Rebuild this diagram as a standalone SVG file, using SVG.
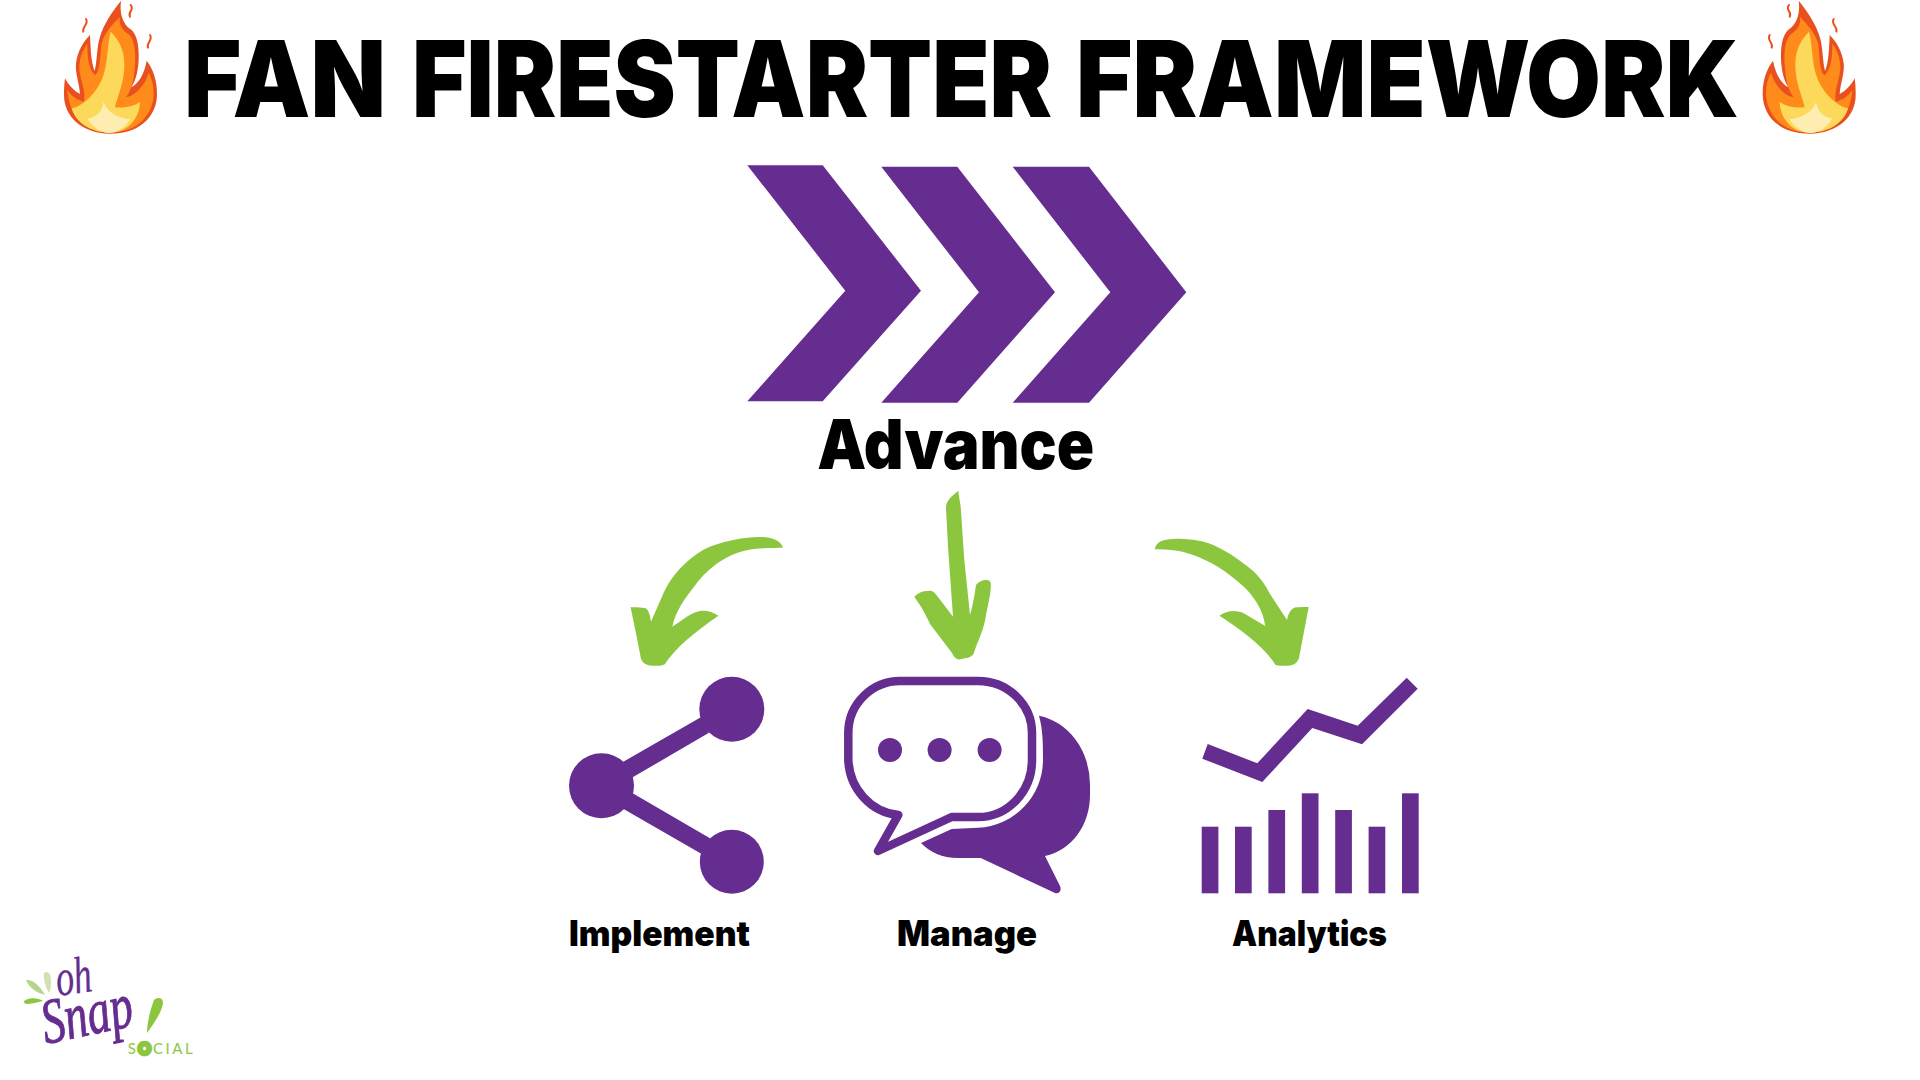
<svg xmlns="http://www.w3.org/2000/svg" xmlns:xlink="http://www.w3.org/1999/xlink" width="1920" height="1080" viewBox="0 0 1920 1080">
<style>
.p{fill:#652d90}
.g{fill:#8cc63f}
.t{font-family:"Inter","Liberation Sans",sans-serif;font-weight:900;fill:#000}
.s{font-family:"Liberation Serif",serif;font-style:italic;fill:#652d90;stroke:#652d90}
</style>
<defs>
<g id="flame" transform="scale(.33333)">
<path fill="#e9501f" d="M363,2C358,40 368,72 392,88C408,100 418,130 416,180C414,220 405,245 394,262C415,250 432,225 440,182C458,205 472,240 471,285C470,340 430,401 330,401C240,400 192,345 192,285C192,265 193,250 195,235C205,255 225,275 240,282C238,250 225,220 228,190C232,155 250,125 270,105C272,140 272,185 284,213C292,180 290,140 300,110C312,70 340,30 363,2Z"/>
<path fill="#ff8c1a" d="M360,50C355,70 365,90 385,102C402,115 408,150 405,195C402,240 395,270 378,292C410,285 435,255 446,218C458,240 463,265 460,295C452,350 410,397 330,398C250,397 208,345 202,270C215,290 235,302 252,305C258,270 240,240 238,205C238,175 248,150 262,132C262,170 265,205 285,226C302,215 300,160 305,130C312,100 340,70 360,50Z"/>
<path fill="#fcd95a" d="M332,95C362,125 378,160 372,215C368,260 350,295 345,322C370,325 400,320 420,306C420,340 395,398 330,398C270,398 225,365 215,325C245,320 285,285 305,240C325,195 320,140 332,95Z"/>
<path fill="#fdedb0" d="M311,305C318,330 345,352 390,358C375,385 350,398 330,399C300,399 275,380 262,355C285,352 305,340 311,305Z"/>
<g fill="none" stroke="#e9501f" stroke-width="6" stroke-linecap="round"><path d="M258,57C268,72 245,80 250,95"/><path d="M392,15C405,30 382,35 390,50"/><path d="M450,105C460,120 438,128 444,143"/></g>
</g>
</defs>
<rect width="1920" height="1080" fill="#fff"/>
<g id="title">
<text class="t" y="117" font-size="106"><tspan x="184" textLength="202" lengthAdjust="spacingAndGlyphs">FAN</tspan> <tspan x="412" textLength="640" lengthAdjust="spacingAndGlyphs">FIRESTARTER</tspan> <tspan x="1076" textLength="663" lengthAdjust="spacingAndGlyphs">FRAMEWORK</tspan></text>
<use id="flame-left" xlink:href="#flame" href="#flame"/>
<use id="flame-right" xlink:href="#flame" href="#flame" transform="matrix(-1 0 0 1 1919.7 0)"/>
</g>
<g id="advance">
<path class="p" d="M747.3,165.3H822.7L921,290.7L822.7,401.3H747.3L845.3,290.7Z"/>
<path class="p" d="M881.3,166.7H957.3L1055,292.3L957.3,402.7H881.3L979,292.3Z"/>
<path class="p" d="M1012.7,166.7H1089L1186.3,292.3L1089,402.7H1012.7L1110.3,292.3Z"/>
<text class="t" x="817.3" y="469" font-size="69" textLength="277" lengthAdjust="spacingAndGlyphs">Advance</text>
</g>
<g id="connectors">
<path class="g" d="M783,547.7C781,541 773,537 759,537C745,537 720,541 703,550C685,561 672,575 664,592L651,621.7C650,614 648,608 644,608C640,607 635,607 630.6,607.3L636.7,636.7L640.8,658C642,663 647,665.7 652,665.7C658,666 662,666 664.8,664.3C675,648 695,632 718.4,615.7C712,611 702,609 695.4,612.3C688,615 680,622 672.4,626.7C675,612 685,598 695.4,585C708,568 728,552 754,549C765,548 775,547.7 783,547.7Z"/>
<path class="g" d="M958.2,491C952,496 946,500 946,508L948,546.7L953,616.7L937.8,596.7C934,591 931,590 927.6,591C922,591 918,593 914.3,596.7C921,606 925,613 930,624L952,653C954,658 957,660 960.7,659.3C966,658 971,658 973.5,654C978,640 984,630 986,615C989,600 991,592 990.8,585C991,581 989,580 986,580C982,580 978,582 976,585C975,592 973,605 970,615L964.3,560L960.7,506.7Z"/>
<path class="g" d="M1155,549.3C1155,545 1159,541 1165,540C1170,538.7 1175,538.7 1180,538.7C1190,539 1200,540 1208,543C1222,548 1238,558 1254,571.7C1262,580 1266,586 1270,594L1287,620C1288,614 1291,608 1296,607.3C1300,607 1304,607 1308.7,607L1299,658C1297,663 1294,665 1290,665.5C1285,666 1280,666 1275.5,665C1265,648 1245,632 1219.4,615.7C1226,611 1236,609 1245,614L1265.3,626C1264,618 1262,612 1259,606.7C1252,594 1244,586 1233.7,578.3C1222,568 1205,558 1182.7,551.7C1174,550 1165,549 1155,549.3Z"/>
</g>
<g id="implement">
<path class="p" d="M623.3,761.7L701.7,716.7L709,732.7L632.7,777.3L632.7,793.3L710,838.3L701.7,854L624,809.3Z"/>
<circle class="p" cx="731.8" cy="709.2" r="32.5"/>
<circle class="p" cx="601.5" cy="785.8" r="32.5"/>
<circle class="p" cx="731.8" cy="861.7" r="32"/>
<text class="t" x="569" y="945.7" font-size="35" textLength="181" lengthAdjust="spacingAndGlyphs">Implement</text>
</g>
<g id="manage">
<path class="p" d="M1039,715.7A62,70 0 0 1 1090,785V795C1090,825 1072,850 1045,856L1060,886C1062,891 1059,894 1055,893L980.7,858H958C942,858 930,852 921,843L951.7,829L978,827.7A68,68 0 0 0 1043,760C1043,745 1043,730 1039,715.7Z"/>
<path fill="none" stroke="#652d90" stroke-width="8.5" stroke-linejoin="round" d="M898.3,815A55,58 0 0 1 848.3,760V733A52,52 0 0 1 901.7,681H978A54,52 0 0 1 1032,733V760A54,57 0 0 1 978,817H951.7L878,851Z"/>
<circle class="p" cx="890" cy="750" r="12"/>
<circle class="p" cx="939.6" cy="750" r="12"/>
<circle class="p" cx="989.6" cy="750" r="12"/>
<text class="t" x="897" y="945.7" font-size="35" textLength="140" lengthAdjust="spacingAndGlyphs">Manage</text>
</g>
<g id="analytics">
<path class="p" d="M1207.7,744L1257.3,763.3L1307.7,709L1357.7,725.7L1406.7,677.7L1417.7,688.7L1362,744.3L1312.3,728L1262.3,782L1202.3,758.7Z"/>
<rect class="p" x="1201.7" y="826.7" width="16.7" height="66.6"/>
<rect class="p" x="1235" y="826.7" width="16.7" height="66.6"/>
<rect class="p" x="1268.4" y="810" width="16.7" height="83.3"/>
<rect class="p" x="1301.8" y="793.3" width="16.7" height="100"/>
<rect class="p" x="1335.2" y="810" width="16.7" height="83.3"/>
<rect class="p" x="1368.6" y="826.7" width="16.7" height="66.6"/>
<rect class="p" x="1402" y="793.3" width="16.7" height="100"/>
<text class="t" x="1232" y="945.7" font-size="35" textLength="155" lengthAdjust="spacingAndGlyphs">Analytics</text>
</g>
<g id="logo">
<path fill="#b5d68a" d="M26,980C33,979 40,986 45,995C37,993 29,988 26,980Z"/>
<path fill="#cfe3b0" d="M44,973C49,970 51,975 51,982C51,988 50,991 49,993C46,988 43,980 44,973Z"/>
<path class="g" d="M24,1001C30,997 38,998 43,1001C36,1003 30,1004 26,1004C24,1003 24,1002 24,1001Z"/>
<text class="s" x="58" y="996" font-size="52" stroke-width=".3" transform="rotate(-8 58 996)" textLength="36" lengthAdjust="spacingAndGlyphs">oh</text>
<text class="s" x="46" y="1044" font-size="64" stroke-width="1" transform="rotate(-12 46 1044)" textLength="92" lengthAdjust="spacingAndGlyphs">Snap</text>
<path class="g" d="M154,1000C157,997 163,997 163,1003C162,1012 153,1025 147,1033C147,1024 150,1010 154,1000Z"/>
<text x="127.7" y="1053.5" font-family="Lato,'Liberation Sans',sans-serif" font-size="15" fill="#8cc63f" textLength="65">S<tspan stroke="#8cc63f" stroke-width="4.5">O</tspan>CIAL</text>
</g>
</svg>
